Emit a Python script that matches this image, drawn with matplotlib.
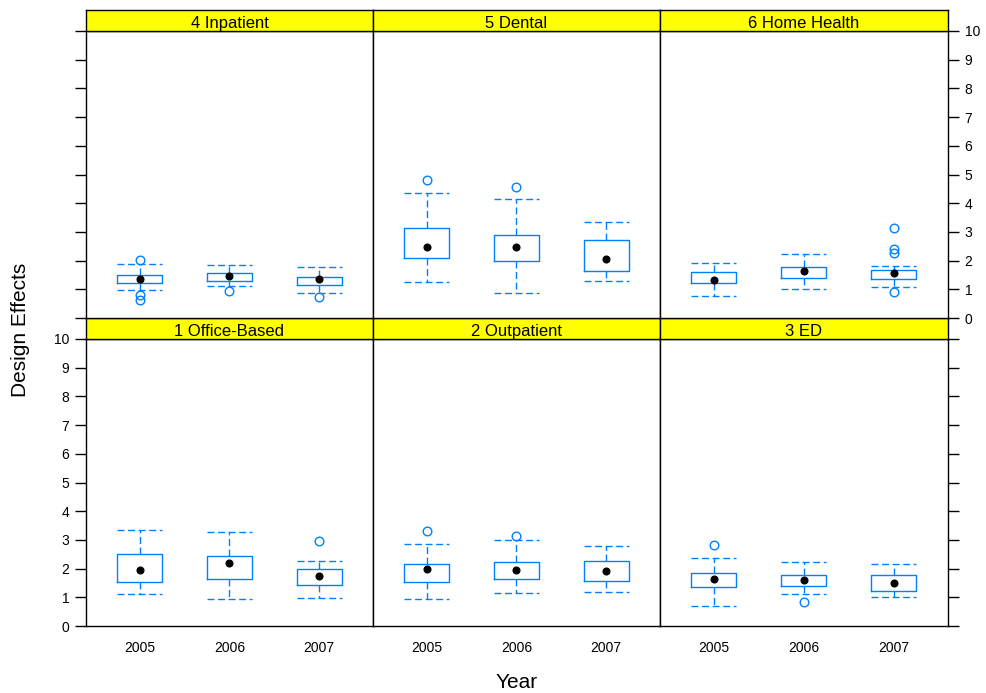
import matplotlib
matplotlib.use("Agg")
import matplotlib.pyplot as plt

plt.rcParams["font.family"] = ["Liberation Sans", "DejaVu Sans"]

years = ["2005", "2006", "2007"]
panel_titles = ["1 Office-Based", "2 Outpatient", "3 ED",
                "4 Inpatient", "5 Dental", "6 Home Health"]

# five-number summaries per year: (whisker low, Q1, median, Q3, whisker high)
office_based = [(1.11, 1.53, 1.94, 2.50, 3.34),
                (0.93, 1.64, 2.18, 2.45, 3.29),
                (0.98, 1.44, 1.74, 1.99, 2.28)]
office_based_out = [[], [], [2.97]]

outpatient = [(0.93, 1.55, 1.99, 2.16, 2.85),
              (1.15, 1.64, 1.94, 2.22, 2.99),
              (1.20, 1.58, 1.90, 2.27, 2.79)]
outpatient_out = [[3.30], [3.13], []]

ed = [(0.71, 1.35, 1.64, 1.83, 2.36),
      (1.11, 1.40, 1.59, 1.78, 2.22),
      (1.00, 1.21, 1.50, 1.78, 2.16)]
ed_out = [[2.81], [0.84], []]

inpatient = [(0.98, 1.21, 1.36, 1.50, 1.88),
             (1.11, 1.29, 1.46, 1.56, 1.85),
             (0.88, 1.15, 1.36, 1.44, 1.79)]
inpatient_out = [[2.02, 0.80, 0.62], [0.95], [0.74]]

dental = [(1.25, 2.08, 2.46, 3.12, 4.34),
          (0.86, 1.99, 2.46, 2.89, 4.15),
          (1.30, 1.65, 2.05, 2.71, 3.33)]
dental_out = [[4.81], [4.55], []]

home_health = [(0.77, 1.22, 1.31, 1.60, 1.91),
               (1.02, 1.39, 1.64, 1.79, 2.23),
               (1.07, 1.35, 1.56, 1.68, 1.82)]
home_health_out = [[], [], [3.13, 2.39, 2.28, 0.90]]

summaries = [office_based, outpatient, ed, inpatient, dental, home_health]
outliers = [office_based_out, outpatient_out, ed_out,
            inpatient_out, dental_out, home_health_out]

W, H = 987, 693
fig = plt.figure(figsize=(W / 100, H / 100), dpi=100)

col_edges = [86, 373, 660, 948]
# (strip top, panel top, panel bottom) in pixels for top and bottom rows
rows = [(10, 31, 318), (318, 339, 626)]

blue = "#0080ff"
dash = (0, (5, 2.6))


def fig_rect(x0, y0, x1, y1):
    return [x0 / W, 1 - y1 / H, (x1 - x0) / W, (y1 - y0) / H]


for idx in range(6):
    r = 1 if idx < 3 else 0
    c = idx % 3
    st, pt, pb = rows[r]
    x0, x1 = col_edges[c], col_edges[c + 1]

    ax = fig.add_axes(fig_rect(x0, pt, x1, pb))
    stats = []
    for j, (lo, q1, med, q3, hi) in enumerate(summaries[idx]):
        stats.append(dict(whislo=lo, q1=q1, med=med, q3=q3, whishi=hi,
                          fliers=outliers[idx][j], label=years[j]))
    pos = [1, 2, 3]
    ax.bxp(stats, positions=pos, widths=0.5, capwidths=0.5,
           boxprops=dict(color=blue, lw=1.0),
           whiskerprops=dict(color=blue, lw=1.0, linestyle=dash),
           capprops=dict(color=blue, lw=1.0, linestyle=dash),
           medianprops=dict(visible=False),
           flierprops=dict(marker="o", markerfacecolor="none",
                           markeredgecolor=blue, markersize=6.2,
                           markeredgewidth=1.0, linestyle="none"))
    ax.plot(pos, [s["med"] for s in stats], "o", color="black",
            markersize=4.8, zorder=5)

    ax.set_xlim(0.4, 3.6)
    ax.set_ylim(0, 10)
    ax.set_yticks(range(0, 11))
    for sp in ax.spines.values():
        sp.set_linewidth(1.0)

    # y axis: labels on left for bottom row, on right for top row
    left_labels = (r == 1 and c == 0)
    right_labels = (r == 0 and c == 2)
    ax.tick_params(axis="y", which="both", length=8, width=1.0,
                   labelsize=10, pad=4,
                   left=(c == 0), right=(c == 2),
                   labelleft=left_labels, labelright=right_labels)
    if r == 1:
        ax.set_xticks(pos)
        ax.set_xticklabels(years)
        ax.tick_params(axis="x", length=0, labelsize=10, pad=11)
    else:
        ax.set_xticks([])

    # strip
    sax = fig.add_axes(fig_rect(x0, st, x1, pt))
    sax.set_facecolor("#ffff00")
    sax.set_xticks([])
    sax.set_yticks([])
    for sp in sax.spines.values():
        sp.set_linewidth(1.0)
    sax.text(0.5, 0.34, panel_titles[idx], ha="center", va="center",
             fontsize=12, transform=sax.transAxes)

fig.text(517 / W, 1 - 683 / H, "Year", ha="center", va="center", fontsize=15)
fig.text(21 / W, 1 - 330 / H, "Design Effects", ha="center", va="center",
         rotation=90, fontsize=15)

fig.savefig("out.png", dpi=100, facecolor="white")
